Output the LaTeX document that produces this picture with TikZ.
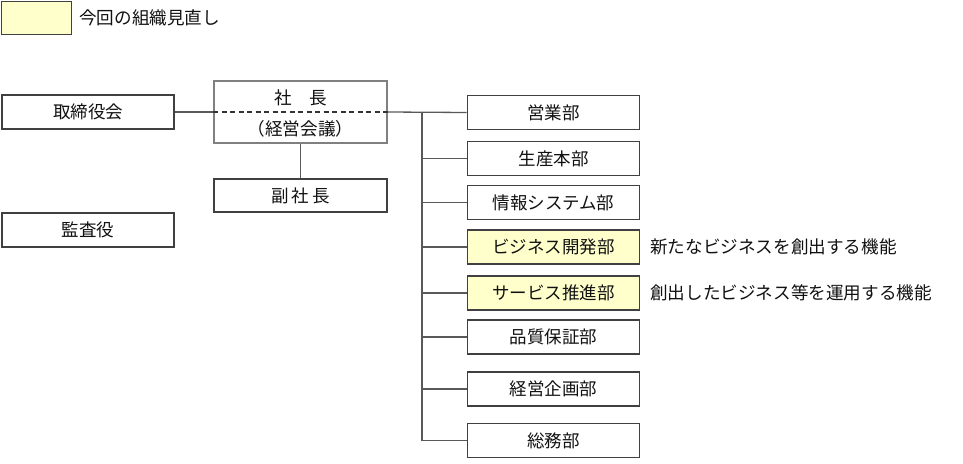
\documentclass[tikz,border=0pt]{standalone}
\usepackage{fontspec}
\setmainfont{Noto Sans CJK JP}
\definecolor{boxline}{HTML}{404040}
\definecolor{presline}{HTML}{808080}
\definecolor{conn}{HTML}{595959}
\definecolor{hilite}{HTML}{FFFFCC}
\definecolor{txt}{HTML}{111111}
\tikzset{
  orgbox/.style={draw=boxline, line width=1.8pt, fill=white, minimum width=172pt, minimum height=34pt, inner sep=0pt, text=txt, font=\fontsize{17.5}{19}\selectfont},
  newbox/.style={orgbox, fill=hilite},
  conline/.style={draw=conn, line width=1.3pt},
  note/.style={anchor=west, inner sep=0pt, text=txt, font=\fontsize{17.6}{19}\selectfont}
}
\begin{document}
\begin{tikzpicture}[x=1pt,y=-1pt]
\useasboundingbox (0,0) rectangle (963,463);
% legend
\node[newbox, minimum width=70pt, minimum height=33pt] (legend) at (36.5,18) {};
\node[note] (legendtxt) at (79,18) {今回の組織見直し};
% left column
\node[orgbox] (board) at (88,112) {取締役会};
\node[orgbox] (audit) at (88,230) {監査役};
% president
\node[draw=presline, line width=1.8pt, fill=white, minimum width=173pt, minimum height=62pt, inner sep=0pt] (pres) at (300.5,112) {};
\node[note, anchor=center] (prestxt) at (300.5,97.5) {社　長};
\node[note, anchor=center] (mgmt) at (300.5,128.5) {（経営会議）};
\node[orgbox, minimum width=173pt, minimum height=33pt] (vp) at (300.5,195.5) {副\,社\,長};
% departments
\node[orgbox] (d1) at (553.5,112.5) {営業部};
\node[orgbox] (d2) at (553.5,158.5) {生産本部};
\node[orgbox] (d3) at (553.5,202.5) {情報システム部};
\node[newbox] (d4) at (553.5,247) {ビジネス開発部};
\node[newbox] (d5) at (553.5,293) {サービス推進部};
\node[orgbox] (d6) at (553.5,337) {品質保証部};
\node[orgbox] (d7) at (553.5,389) {経営企画部};
\node[orgbox] (d8) at (553.5,440.5) {総務部};
\node[note] (n4) at (650,247) {新たなビジネスを創出する機能};
\node[note] (n5) at (650,293) {創出したビジネス等を運用する機能};
% connectors
\draw[conline] (board.east) -- (pres.west);
\draw[draw=black!80, line width=1.5pt, dash pattern=on 5pt off 3.5pt] (pres.west) -- (pres.east);
\draw[conline] (pres.south) -- (vp.north);
\draw[conline] (pres.east) -- (d1.west);
\coordinate (trunk) at (422,112);
\draw[conline] (trunk) -- (trunk |- d8.west);
\foreach \d in {d2,d3,d4,d5,d6,d7,d8}
  \draw[conline] (trunk |- \d.west) -- (\d.west);
\end{tikzpicture}
\end{document}
